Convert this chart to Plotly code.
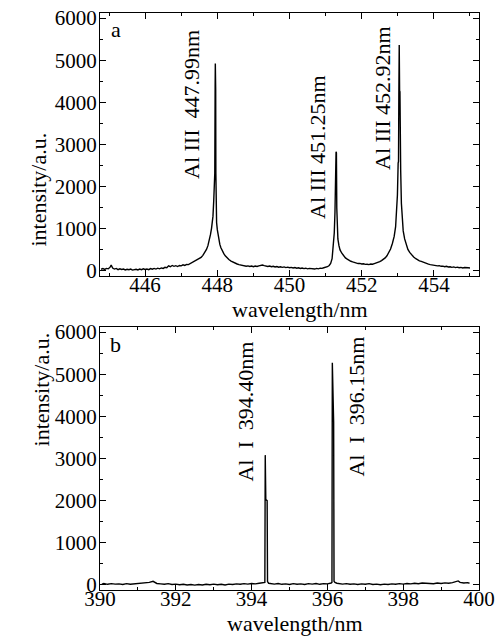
import plotly.graph_objects as go
from plotly.subplots import make_subplots

# ---- panel a : Al III lines ----
wl_a = [444.78, 444.83, 444.88, 444.93, 444.98, 445.03, 445.06, 445.1, 445.15, 445.2,
        445.25, 445.3, 445.35, 445.4, 445.45, 445.5, 445.55, 445.6, 445.65, 445.7,
        445.75, 445.8, 445.85, 445.9, 445.95, 446.0, 446.05, 446.1, 446.15, 446.2,
        446.25, 446.3, 446.35, 446.4, 446.45, 446.5, 446.55, 446.6, 446.65, 446.7,
        446.75, 446.8, 446.85, 446.9, 446.95, 447.0, 447.05, 447.1, 447.15, 447.2,
        447.25, 447.3, 447.35, 447.4, 447.45, 447.5, 447.55, 447.6, 447.65, 447.7,
        447.74, 447.78, 447.81, 447.84, 447.86, 447.88, 447.9, 447.92, 447.93, 447.94,
        447.945, 447.95, 447.955, 447.96, 447.965, 447.97, 447.98, 448.0, 448.02, 448.04,
        448.07, 448.1, 448.14, 448.18, 448.22, 448.27, 448.32, 448.38, 448.44, 448.5,
        448.55, 448.6, 448.65, 448.7, 448.75, 448.8, 448.85, 448.9, 448.95, 449.0,
        449.05, 449.1, 449.15, 449.2, 449.25, 449.3, 449.35, 449.4, 449.45, 449.5,
        449.55, 449.6, 449.65, 449.7, 449.75, 449.8, 449.85, 449.9, 449.95, 450.0,
        450.05, 450.1, 450.15, 450.2, 450.25, 450.3, 450.35, 450.4, 450.45, 450.5,
        450.55, 450.6, 450.65, 450.7, 450.75, 450.8, 450.85, 450.9, 450.95, 451.0,
        451.05, 451.1, 451.14, 451.18, 451.21, 451.24, 451.26, 451.27, 451.28, 451.29,
        451.3, 451.31, 451.32, 451.34, 451.37, 451.4, 451.45, 451.5, 451.55, 451.6,
        451.65, 451.7, 451.75, 451.8, 451.85, 451.9, 451.95, 452.0, 452.05, 452.1,
        452.15, 452.2, 452.25, 452.3, 452.35, 452.4, 452.45, 452.5, 452.55, 452.6,
        452.65, 452.7, 452.75, 452.8, 452.85, 452.9, 452.94, 452.97, 452.99, 453.01,
        453.02, 453.03, 453.04, 453.05, 453.06, 453.07, 453.08, 453.1, 453.12, 453.15,
        453.19, 453.23, 453.28, 453.33, 453.38, 453.44, 453.5, 453.55, 453.6, 453.65,
        453.7, 453.75, 453.8, 453.85, 453.9, 453.95, 454.0, 454.05, 454.1, 454.15,
        454.2, 454.25, 454.3, 454.35, 454.4, 454.45, 454.5, 454.55, 454.6, 454.65,
        454.7, 454.75, 454.8, 454.85, 454.9, 454.95, 455.0]
int_a = [40, 55, 35, 60, 50, 90, 140, 70, 45, 60,
         30, 50, 35, 45, 25, 40, 30, 45, 20, 35,
         40, 25, 45, 30, 50, 35, 45, 30, 55, 40,
         60, 45, 65, 50, 70, 60, 85, 75, 120, 100,
         130, 110, 125, 105, 130, 120, 145, 130, 155, 150,
         175, 190, 215, 230, 265, 290, 320, 370, 430, 510,
         600, 720, 860, 1010, 1150, 1300, 1650, 2300, 2320, 4370,
         4920, 4370, 4300, 2320, 1300, 1280, 1150, 980, 850, 740,
         630, 550, 470, 410, 360, 310, 270, 235, 205, 185,
         165, 150, 140, 125, 130, 110, 120, 105, 115, 100,
         115, 105, 120, 135, 140, 125, 115, 105, 115, 100,
         110, 95, 105, 90, 100, 85, 95, 80, 90, 75,
         85, 70, 80, 65, 75, 60, 70, 55, 65, 50,
         60, 50, 55, 45, 60, 50, 65, 60, 75, 80,
         100, 130, 180, 290, 520, 900, 1400, 2085, 2100, 2830,
         2800, 1500, 1000, 760, 600, 500, 420, 360, 310, 280,
         250, 230, 215, 200, 190, 175, 180, 165, 170, 155,
         160, 150, 165, 160, 175, 185, 200, 220, 245, 270,
         310, 360, 430, 520, 650, 820, 1050, 1400, 1800, 2560,
         2600, 4290, 5360, 4290, 4250, 2560, 2400, 1600, 1200, 950,
         760, 620, 510, 440, 380, 330, 290, 260, 240, 225,
         205, 190, 175, 160, 150, 140, 130, 135, 120, 125,
         110, 115, 100, 110, 95, 100, 85, 95, 80, 90,
         75, 85, 70, 80, 70, 75, 70]

# ---- panel b : Al I lines ----
wl_b = [390.05, 390.1, 390.2, 390.3, 390.4, 390.5, 390.6, 390.7, 390.8, 390.9,
        391.0, 391.1, 391.2, 391.3, 391.4, 391.45, 391.5, 391.6, 391.7, 391.8,
        391.9, 392.0, 392.1, 392.2, 392.3, 392.4, 392.5, 392.6, 392.7, 392.8,
        392.9, 393.0, 393.1, 393.2, 393.3, 393.4, 393.5, 393.6, 393.7, 393.8,
        393.9, 394.0, 394.1, 394.2, 394.3, 394.35, 394.36, 394.375, 394.41, 394.42,
        394.45, 394.5, 394.6, 394.7, 394.8, 394.9, 395.0, 395.1, 395.2, 395.3,
        395.4, 395.5, 395.6, 395.7, 395.8, 395.9, 396.0, 396.1, 396.12, 396.13,
        396.145, 396.165, 396.175, 396.2, 396.25, 396.3, 396.4, 396.5, 396.6, 396.7,
        396.8, 396.9, 397.0, 397.1, 397.2, 397.3, 397.4, 397.5, 397.6, 397.7,
        397.8, 397.9, 398.0, 398.1, 398.2, 398.3, 398.4, 398.5, 398.6, 398.7,
        398.8, 398.9, 399.0, 399.1, 399.2, 399.3, 399.4, 399.45, 399.5, 399.6,
        399.7, 399.75]
int_b = [20, 35, 15, 30, 20, 25, 10, 30, 15, 25,
         20, 30, 45, 60, 85, 60, 35, 25, 15, 30,
         10, 20, 5, 15, 0, 10, -5, 10, 0, 15,
         5, 20, 5, 15, 0, 20, 10, 25, 15, 30,
         20, 35, 25, 40, 45, 60, 3080, 2030, 2000, 80,
         40, 30, 20, 35, 15, 25, 10, 30, 15, 25,
         10, 30, 20, 35, 15, 30, 25, 45, 60, 5270,
         3880, 3860, 90, 60, 40, 30, 20, 30, 15, 25,
         10, 25, 15, 30, 10, 20, 5, 20, 10, 25,
         15, 30, 20, 35, 25, 40, 30, 45, 35, 40,
         30, 45, 35, 50, 40, 55, 70, 95, 60, 45,
         55, 40]

y_ticks = [0, 1000, 2000, 3000, 4000, 5000, 6000]

FONT = "Liberation Serif, Times New Roman, serif"
BLACK = "black"

fig = make_subplots(rows=2, cols=1, vertical_spacing=0.0)
fig.add_trace(go.Scatter(x=wl_a, y=int_a, mode="lines",
                         line=dict(color=BLACK, width=1.4)), row=1, col=1)
fig.add_trace(go.Scatter(x=wl_b, y=int_b, mode="lines",
                         line=dict(color=BLACK, width=1.4)), row=2, col=1)

ax_common = dict(showline=True, linecolor=BLACK, linewidth=1.2, mirror="ticks",
                 ticks="inside", ticklen=6, tickcolor=BLACK, tickwidth=1,
                 showgrid=False, zeroline=False, automargin=False,
                 ticklabeloverflow="allow",
                 tickfont=dict(family=FONT, size=21, color=BLACK))

fig.update_xaxes(**ax_common)
fig.update_yaxes(**ax_common)
fig.update_xaxes(ticklabelstandoff=-10)
fig.update_yaxes(ticklabelstandoff=-2)

fig.update_xaxes(range=[444.75, 455.25], tickvals=[446, 448, 450, 452, 454],
                 minor=dict(dtick=1, tick0=445, ticks="inside", ticklen=3, tickcolor=BLACK),
                 row=1, col=1)
fig.update_xaxes(range=[390, 400], tickvals=[390, 392, 394, 396, 398, 400],
                 minor=dict(dtick=1, tick0=390, ticks="inside", ticklen=3, tickcolor=BLACK),
                 row=2, col=1)
for r in (1, 2):
    fig.update_yaxes(range=[-120, 6120], tickvals=y_ticks,
                     minor=dict(dtick=500, tick0=0, ticks="inside", ticklen=3, tickcolor=BLACK),
                     row=r, col=1)

fig.update_layout(
    width=499, height=639,
    margin=dict(l=100, r=20, t=13, b=49),
    paper_bgcolor="white", plot_bgcolor="white",
    showlegend=False,
    font=dict(family=FONT, color=BLACK, size=22),
    yaxis=dict(domain=[0.5442, 1.0]),
    yaxis2=dict(domain=[0.0, 0.4558]),
)

lab_font = dict(family=FONT, size=22, color=BLACK)
ann = [
    # panel letters
    dict(x=445.19, y=5718, xref="x", yref="y", text="a", showarrow=False, font=lab_font),
    dict(x=390.40, y=5694, xref="x2", yref="y2", text="b", showarrow=False, font=lab_font),
    # line labels
    dict(x=447.30, y=3938, xref="x", yref="y", text="Al III  447.99nm", textangle=-90,
         showarrow=False, font=lab_font),
    dict(x=450.79, y=2942, xref="x", yref="y", text="Al III 451.25nm", textangle=-90,
         showarrow=False, font=lab_font),
    dict(x=452.59, y=4104, xref="x", yref="y", text="Al III 452.92nm", textangle=-90,
         showarrow=False, font=lab_font),
    dict(x=393.84, y=4104, xref="x2", yref="y2", text="Al  I  394.40nm", textangle=-90,
         showarrow=False, font=lab_font),
    dict(x=396.77, y=4223, xref="x2", yref="y2", text="Al  I  396.15nm", textangle=-90,
         showarrow=False, font=lab_font),
    # axis titles
    dict(x=0.5277, y=0.4858, xref="paper", yref="paper", text="wavelength/nm",
         showarrow=False, font=lab_font),
    dict(x=0.5145, y=-0.0832, xref="paper", yref="paper", text="wavelength/nm",
         yanchor="bottom", showarrow=False, font=lab_font),
    dict(x=-0.2005, y=0.7955, xref="paper", yref="paper", text="intensity/a.u.",
         textangle=-90, showarrow=False, font=lab_font),
    dict(x=-0.1926, y=0.2444, xref="paper", yref="paper", text="intensity/a.u.",
         textangle=-90, showarrow=False, font=lab_font),
]
fig.update_layout(annotations=ann)

# remove the default 8px page margin so the figure sits at the window's corner
fig.write_html("out.html",
               config={"displayModeBar": False},
               post_script="document.body.style.margin='0px';document.body.style.overflow='hidden';")
